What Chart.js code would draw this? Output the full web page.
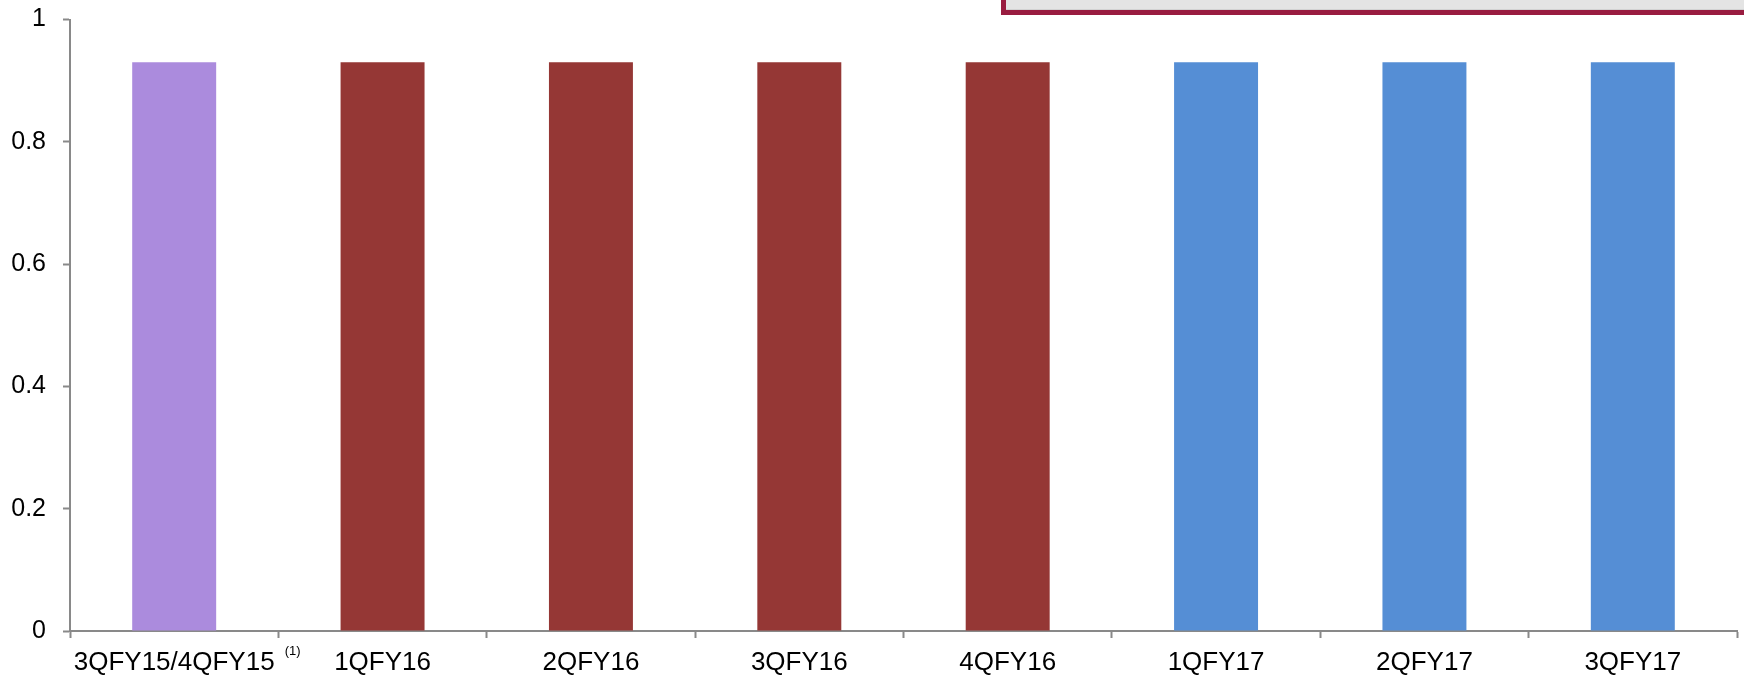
<!DOCTYPE html>
<html>
<head>
<meta charset="utf-8">
<script src="https://cdn.jsdelivr.net/npm/chart.js@4"></script>
<style>
  html, body { margin: 0; padding: 0; background: #fff; }
  canvas { display: block; }
</style>
</head>
<body>
<canvas id="quarters" width="1744" height="676"></canvas>
<script>
// data
const quarters = ['3QFY15/4QFY15', '1QFY16', '2QFY16', '3QFY16', '4QFY16', '1QFY17', '2QFY17', '3QFY17']
const values = [0.93, 0.93, 0.93, 0.93, 0.93, 0.93, 0.93, 0.93]
const barColors = ['#ab8bdd', '#953735', '#953735', '#953735', '#953735', '#558ed5', '#558ed5', '#558ed5']
const footnote = '(1)'

const axisGrey = '#898989'
const fontFamily = '"Liberation Sans", Arial, sans-serif'

// grey caption box peeking in from the top edge, plus the footnote marker
const extras = {
  id: 'extras',
  beforeDraw(chart) {
    const ctx = chart.ctx
    ctx.save()
    ctx.fillStyle = '#e4e4e4'
    ctx.fillRect(1001, 0, 743, 10)
    ctx.fillStyle = '#d2d2d2'
    ctx.fillRect(1006, 9, 738, 1)
    ctx.fillStyle = '#991c40'
    ctx.fillRect(1001, 10, 743, 5)
    ctx.fillRect(1001, 0, 5, 15)
    ctx.restore()
  },
  afterDraw(chart) {
    const ctx = chart.ctx
    const x = chart.scales.x
    ctx.save()
    ctx.font = '26px ' + fontFamily
    const w = ctx.measureText(quarters[0]).width
    const px = x.getPixelForTick(0) + w / 2 + 10
    ctx.font = '13px ' + fontFamily
    ctx.fillStyle = '#000'
    ctx.textBaseline = 'top'
    ctx.fillText(footnote, px, 645)
    ctx.restore()
  }
}

const ctx = document.querySelector('#quarters')
new Chart(ctx, {
  type: 'bar',
  data: {
    labels: quarters,
    datasets: [{
      data: values,
      backgroundColor: barColors,
      borderWidth: 0,
      categoryPercentage: 1,
      barPercentage: 0.403
    }]
  },
  options: {
    responsive: false,
    animation: false,
    layout: { padding: { top: 19.5, right: 7, left: 0, bottom: 0 } },
    plugins: { legend: { display: false }, tooltip: { enabled: false } },
    scales: {
      x: {
        afterFit(scale) { scale.height = 45 },
        grid: { drawOnChartArea: false, tickLength: 7, tickColor: axisGrey, tickWidth: 2, offset: true },
        border: { color: axisGrey, width: 2 },
        ticks: { color: '#000', padding: 9, maxRotation: 0, autoSkip: false, font: { family: fontFamily, size: 26 } }
      },
      y: {
        min: 0,
        max: 1,
        afterFit(scale) {
          scale.width = 70
          scale.paddingTop = 0
          scale.paddingBottom = 0
        },
        grid: { drawOnChartArea: false, tickLength: 7, tickColor: axisGrey, tickWidth: 2 },
        border: { color: axisGrey, width: 2 },
        ticks: {
          stepSize: 0.2,
          color: '#000',
          padding: 17,
          font: { family: fontFamily, size: 25 },
          callback: v => String(Math.round(v * 10) / 10)
        }
      }
    }
  },
  plugins: [extras]
})
</script>
</body>
</html>
